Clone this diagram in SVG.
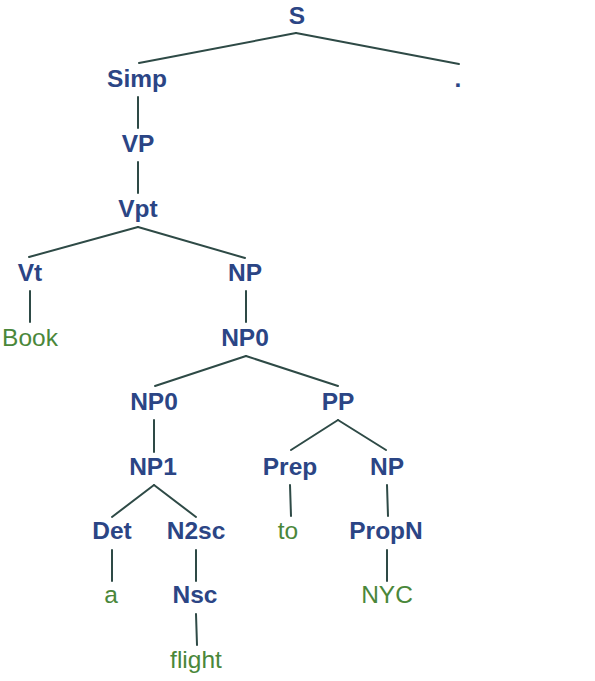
<svg xmlns="http://www.w3.org/2000/svg" width="595" height="681" viewBox="0 0 595 681">
<style>
.n{font-family:"Liberation Sans",Arial,sans-serif;font-weight:bold;font-size:24.5px;fill:#2b4585;text-anchor:middle}
.w{font-family:"Liberation Sans",Arial,sans-serif;font-size:24.5px;fill:#4a873a;text-anchor:middle}
#edges line{stroke:#2e4a46;stroke-width:2;stroke-linecap:round}
</style>
<rect width="595" height="681" fill="#ffffff"/>
<g id="edges">
<line x1="296" y1="33" x2="139" y2="63"/>
<line x1="296" y1="33" x2="459" y2="64"/>
<line x1="138" y1="97" x2="138" y2="128"/>
<line x1="138" y1="162" x2="138" y2="193"/>
<line x1="138" y1="227" x2="29" y2="257"/>
<line x1="138" y1="227" x2="245" y2="258"/>
<line x1="30" y1="291" x2="30" y2="322"/>
<line x1="246" y1="291" x2="246" y2="322"/>
<line x1="246" y1="356" x2="155" y2="386"/>
<line x1="246" y1="356" x2="338" y2="386"/>
<line x1="154" y1="420" x2="154" y2="452"/>
<line x1="338" y1="420" x2="291" y2="450"/>
<line x1="338" y1="420" x2="386" y2="450"/>
<line x1="154" y1="485" x2="112" y2="517"/>
<line x1="154" y1="485" x2="196" y2="517"/>
<line x1="290" y1="485" x2="291" y2="516"/>
<line x1="387" y1="485" x2="388" y2="516"/>
<line x1="112" y1="550" x2="112" y2="581"/>
<line x1="196" y1="550" x2="196" y2="581"/>
<line x1="387" y1="550" x2="387" y2="581"/>
<line x1="196" y1="614" x2="197" y2="645"/>
</g>
<g id="n-S"><text class="n" x="297" y="24">S</text></g>
<g id="n-Simp"><text class="n" x="137" y="87">Simp</text></g>
<g id="n-dot"><text class="n" x="458" y="87">.</text></g>
<g id="n-VP"><text class="n" x="138" y="152">VP</text></g>
<g id="n-Vpt"><text class="n" x="138" y="217">Vpt</text></g>
<g id="n-Vt"><text class="n" x="30" y="281">Vt</text></g>
<g id="n-NP"><text class="n" x="245" y="281">NP</text></g>
<g id="n-Book"><text class="w" x="30" y="346">Book</text></g>
<g id="n-NP0a"><text class="n" x="245" y="346">NP0</text></g>
<g id="n-NP0b"><text class="n" x="154" y="410">NP0</text></g>
<g id="n-PP"><text class="n" x="338" y="410">PP</text></g>
<g id="n-NP1"><text class="n" x="153" y="475">NP1</text></g>
<g id="n-Prep"><text class="n" x="290" y="475">Prep</text></g>
<g id="n-NP2"><text class="n" x="387" y="475">NP</text></g>
<g id="n-Det"><text class="n" x="112" y="539">Det</text></g>
<g id="n-N2sc"><text class="n" x="196" y="539">N2sc</text></g>
<g id="n-to"><text class="w" x="288" y="539">to</text></g>
<g id="n-PropN"><text class="n" x="386" y="539">PropN</text></g>
<g id="n-a"><text class="w" x="111" y="603">a</text></g>
<g id="n-Nsc"><text class="n" x="195" y="603">Nsc</text></g>
<g id="n-NYC"><text class="w" x="387" y="603">NYC</text></g>
<g id="n-flight"><text class="w" x="196" y="668">flight</text></g>
</svg>
